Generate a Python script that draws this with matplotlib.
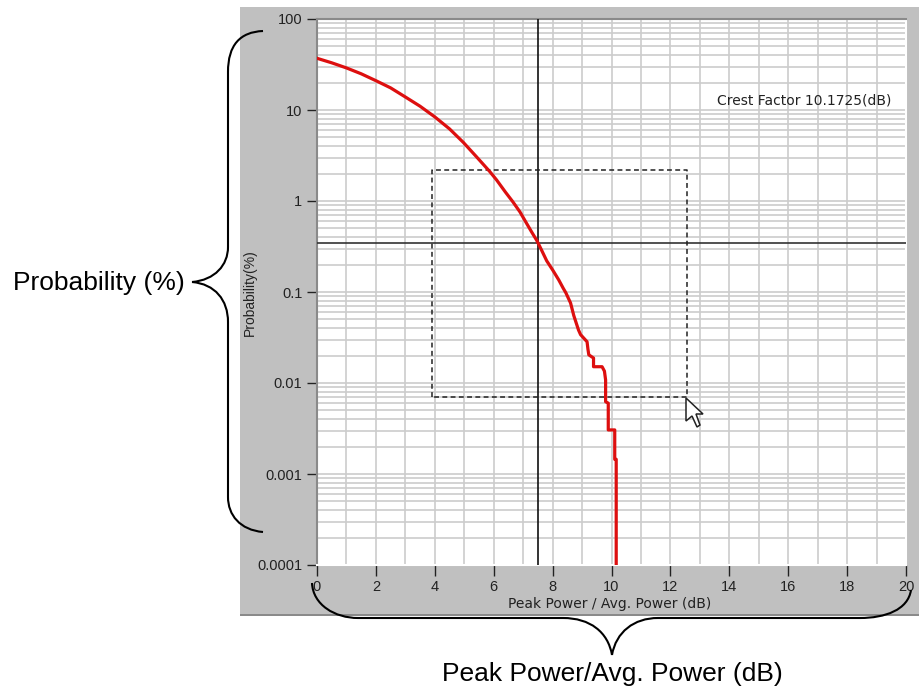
import matplotlib
matplotlib.use('Agg')
import matplotlib.pyplot as plt
from matplotlib.patches import PathPatch, Rectangle, Polygon
from matplotlib.path import Path
from matplotlib.ticker import NullFormatter, LogLocator

# values
curve_x = [0.0, 0.5, 1.0, 1.5, 2.0, 2.5, 3.0, 3.5, 4.0, 4.5, 4.97, 5.4, 5.87, 6.1, 6.4, 6.65, 6.89,
           7.1, 7.3, 7.46, 7.6, 7.8, 8.0, 8.21, 8.36, 8.45, 8.61, 8.72, 8.88, 8.95, 9.17, 9.2, 9.23, 9.39,
           9.39, 9.68, 9.76, 9.8, 9.8, 9.89, 9.89, 10.11, 10.11, 10.16, 10.16]
curve_y = [37, 33, 29, 25, 21, 17.5, 13.9, 11, 8.4, 6.2, 4.4, 3.1, 2.1, 1.7, 1.25, 0.98, 0.76,
           0.58, 0.45, 0.37, 0.3, 0.22, 0.175, 0.1355, 0.11, 0.098, 0.0757, 0.055, 0.0382, 0.034, 0.0284, 0.0235, 0.0204, 0.0188,
           0.0151, 0.0151, 0.0135, 0.0108, 0.00623, 0.0060, 0.00305, 0.00305, 0.00145, 0.00145, 0.0001]
cursor_x = 7.52
cursor_y = 0.347
box_x = [3.92, 12.55]
box_y = [0.0070, 2.2]
x_ticks = list(range(0, 21, 2))
x_grid = list(range(0, 21))
y_ticks = [100, 10, 1, 0.1, 0.01, 0.001, 0.0001]
y_labels = ['100', '10', '1', '0.1', '0.01', '0.001', '0.0001']

W, H = 920, 693
plt.rcParams['font.family'] = 'Liberation Sans'


def px(x, y):
    return x / W, 1 - y / H


def curve(points, lw=1.5):
    # first point is the start, the rest are CURVE4 triples or single LINETO
    verts, codes = [], []
    for i, p in enumerate(points):
        verts.append(px(*p[:2]))
        codes.append(Path.MOVETO if i == 0 else p[2])
    fig.add_artist(PathPatch(Path(verts, codes), fc='none', ec='black', lw=lw,
                             transform=fig.transFigure, zorder=10))


C, L = Path.CURVE4, Path.LINETO

fig = plt.figure(figsize=(W / 100, H / 100), dpi=100, facecolor='white')

# grey window behind the plot
fig.add_artist(Rectangle(px(240, 616), 680 / W, 609 / H, transform=fig.transFigure,
                         fc='#c0c0c0', ec='none', zorder=0))
fig.add_artist(Rectangle(px(240, 616), 680 / W, 2.5 / H, transform=fig.transFigure,
                         fc='#8a8a8a', ec='none', zorder=0))

left, right, top, bottom = 317, 906, 19, 565
ax = fig.add_axes([left / W, 1 - bottom / H, (right - left) / W, (bottom - top) / H], zorder=1)
ax.set_facecolor('white')
ax.set_xlim(0, 20)
ax.set_yscale('log')
ax.set_ylim(0.0001, 100)

ax.set_xticks(x_ticks)
ax.set_xticks(x_grid, minor=True)
ax.set_yticks(y_ticks)
ax.set_yticklabels(y_labels)
ax.yaxis.set_minor_locator(LogLocator(base=10, subs=range(2, 10), numticks=12))
ax.yaxis.set_minor_formatter(NullFormatter())
ax.grid(True, which='both', color='#cccccc', lw=1.2)
ax.set_axisbelow(True)
ax.tick_params(axis='both', which='minor', length=0)
ax.tick_params(axis='x', which='major', length=8, width=1, pad=3, color='#222222',
               labelcolor='#222222', labelsize=10.5, direction='out')
ax.tick_params(axis='y', which='major', length=7, width=1, pad=3.5, color='#222222',
               labelcolor='#222222', labelsize=10.5, direction='out')

for side, spine in ax.spines.items():
    spine.set_color('#8a8a8a' if side in ('left', 'top') else 'white')
    spine.set_linewidth(1.5)

# cursors and selection box
ax.axvline(cursor_x, color='#111111', lw=1.2, zorder=3)
ax.axhline(cursor_y, color='#333333', lw=1.2, zorder=3)
ax.plot([box_x[0], box_x[0], box_x[1], box_x[1], box_x[0]],
        [box_y[0], box_y[1], box_y[1], box_y[0], box_y[0]],
        color='#222222', lw=1.1, ls=(0, (3.2, 2.2)), zorder=4)

ax.plot(curve_x, curve_y, color='#dd0f0f', lw=2.3, solid_joinstyle='round', zorder=5)

ax.text(19.52, 10 ** 1.102, 'Crest Factor 10.1725(dB)', ha='right', va='center',
        fontsize=10, color='#222222', family='DejaVu Sans', zorder=6)

# axis titles inside the window
fig.text(*px(610, 604), 'Peak Power / Avg. Power (dB)', ha='center', va='center',
         fontsize=10, color='#222222', family='DejaVu Sans', zorder=5)
fig.text(*px(250, 293), 'Probability(%)', rotation=90, ha='center', va='center',
         fontsize=10, color='#222222', zorder=5)

# mouse pointer
pointer = Polygon([px(*p) for p in [(686, 398), (686, 421), (692, 416), (697, 427), (700, 425),
                                    (696, 414), (703, 414)]],
                  closed=True, transform=fig.transFigure, fc='white', ec='#222222',
                  lw=1.1, zorder=9)
fig.add_artist(pointer)

# left brace
curve([(263, 31), (240, 32, C), (228, 45, C), (228, 72, C), (228, 247, L),
       (228, 265, C), (215, 280, C), (192, 282, C)])
curve([(192, 282), (215, 284, C), (228, 300, C), (228, 322, C), (228, 497, L),
       (228, 515, C), (240, 530, C), (263, 532, C)])
# bottom brace
curve([(312, 583), (313, 605, C), (335, 618, C), (358, 618, C), (563, 618, L),
       (590, 618, C), (608, 632, C), (612, 655, C)])
curve([(612, 655), (616, 632, C), (634, 618, C), (658, 618, C), (860, 618, L),
       (885, 618, C), (908, 610, C), (911, 590, C)])

fig.text(*px(98.5, 283), 'Probability (%)', ha='center', va='center', fontsize=19, color='black')
fig.text(*px(612.5, 674), 'Peak Power/Avg. Power (dB)', ha='center', va='center', fontsize=19,
         color='black')

fig.savefig('out.png', dpi=100, facecolor='white')
